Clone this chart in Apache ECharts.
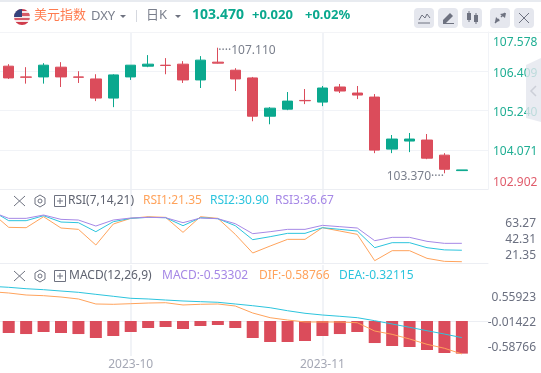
<!DOCTYPE html>
<html>
<head>
<meta charset="utf-8">
<style>
  html, body { margin: 0; padding: 0; background: #fff; }
  #chart { width: 541px; height: 373px; }
</style>
<script src="https://cdn.jsdelivr.net/npm/echarts@6/dist/echarts.min.js"></script>
</head>
<body>
<div id="chart"></div>
<script>
// index 0 is the session just off the left edge, only the indicator lines reach into view from it
const xLabels = ['', '', '', '', '', '', '', '', '2023-10', '', '', '', '', '', '', '', '', '', '', '2023-11', '', '', '', '', '', '', '', '', ''];

// open, close, low, high
const candles = [
  ['-', '-', '-', '-'],
  [106.56, 106.21, 106.18, 106.62],
  [106.24, 106.23, 106.04, 106.53],
  [106.24, 106.59, 106.04, 106.65],
  [106.53, 106.24, 105.94, 106.68],
  [106.24, 106.23, 106.06, 106.41],
  [106.18, 105.61, 105.52, 106.32],
  [105.61, 106.30, 105.34, 106.32],
  [106.24, 106.59, 106.15, 106.59],
  [106.56, 106.62, 106.53, 106.89],
  [106.59, 106.58, 106.32, 106.80],
  [106.62, 106.15, 106.06, 106.71],
  [106.15, 106.74, 105.91, 106.86],
  [106.68, 106.65, 106.64, 107.11],
  [106.44, 106.18, 105.82, 106.50],
  [106.21, 105.07, 104.92, 106.24],
  [105.07, 105.31, 104.83, 105.34],
  [105.28, 105.52, 105.25, 105.79],
  [105.54, 105.53, 105.43, 105.88],
  [105.49, 105.91, 105.37, 105.97],
  [105.94, 105.82, 105.76, 106.03],
  [105.76, 105.70, 105.58, 105.97],
  [105.64, 104.06, 103.97, 105.73],
  [104.09, 104.39, 103.97, 104.51],
  [104.33, 104.39, 104.00, 104.57],
  [104.36, 103.82, 103.79, 104.54],
  [103.91, 103.49, 103.37, 103.97],
  [103.45, 103.47, 103.45, 103.47],
  ['-', '-', '-', '-']
];

const rsi1 = [62.47, 49.97, 49.69, 58.86, 49.42, 48.31, 35.25, 52.75, 57.47, 58.86, 58.30, 45.81, 58.86, 57.47, 44.14, 28.59, 34.42, 39.97, 39.97, 49.69, 46.92, 44.14, 22.20, 30.53, 30.53, 24.15, 21.65, 21.35];
const rsi2 = [64.13, 55.53, 55.53, 59.69, 54.42, 53.86, 46.36, 54.69, 57.47, 58.30, 58.03, 51.36, 58.03, 57.19, 51.36, 39.70, 42.20, 44.97, 44.97, 49.69, 48.31, 46.92, 33.03, 37.20, 37.20, 33.03, 31.20, 30.90];
const rsi3 = [63.02, 57.47, 57.47, 60.25, 56.64, 56.08, 51.08, 56.08, 57.75, 58.30, 58.03, 53.86, 57.75, 57.19, 53.03, 44.70, 46.36, 48.31, 48.31, 51.64, 50.53, 49.42, 38.86, 41.64, 41.64, 38.31, 36.64, 36.67];

const macdBars = ['-', -0.196, -0.213, -0.180, -0.196, -0.213, -0.278, -0.245, -0.180, -0.114, -0.098, -0.131, -0.082, -0.065, -0.114, -0.278, -0.343, -0.343, -0.327, -0.245, -0.213, -0.180, -0.360, -0.409, -0.425, -0.474, -0.523, -0.533];
const dif = [0.430, 0.409, 0.376, 0.365, 0.343, 0.311, 0.229, 0.224, 0.234, 0.245, 0.250, 0.213, 0.224, 0.229, 0.196, 0.082, 0.005, -0.033, -0.065, -0.065, -0.065, -0.077, -0.213, -0.267, -0.343, -0.430, -0.495, -0.58766];
const dea = [0.518, 0.502, 0.479, 0.463, 0.441, 0.420, 0.387, 0.355, 0.322, 0.311, 0.294, 0.278, 0.267, 0.257, 0.229, 0.201, 0.168, 0.119, 0.077, 0.049, 0.028, 0.005, -0.044, -0.098, -0.152, -0.208, -0.262, -0.32115];

const priceTicks = [102.902, 104.071, 105.240, 106.409, 107.578];
const priceEndTicks = [102.902, 107.578];
const priceMidTicks = [104.071, 105.240, 106.409];
const rsiTicks = [21.35, 42.31, 63.27];
const macdTicks = [-0.58766, -0.01422, 0.55923];

const UP = '#0aa88e';
const DOWN = '#db4c5b';
const GRID = '#f1f3f7';
const FONT = '"Noto Sans", "Noto Sans CJK SC", sans-serif';
const monthLines = [8, 19];

const myChart = echarts.init(document.getElementById('chart'));

const monthMarks = {
  silent: true,
  symbol: 'none',
  animation: false,
  z: 0,
  label: { show: false },
  lineStyle: { color: GRID, width: 2, type: 'solid' },
  data: monthLines.map(i => ({ xAxis: i }))
};

const xAxisBase = {
  type: 'category',
  data: xLabels,
  min: 1,
  max: 28,
  axisLine: { lineStyle: { color: '#eceef3' } },
  axisTick: { show: false },
  axisLabel: { show: false },
  splitLine: { show: false }
};

function labelAxis(gridIndex, ticks, min, max, digits) {
  return {
    type: 'value',
    gridIndex,
    position: 'right',
    min,
    max,
    axisLine: { show: false },
    axisTick: { show: false, customValues: ticks },
    splitLine: { show: false },
    axisLabel: {
      customValues: ticks,
      inside: false,
      margin: 48,
      align: 'right',
      padding: [2, 0, 0, 0],
      color: '#6b7080',
      fontFamily: FONT,
      fontSize: 12,
      formatter: v => v.toFixed(digits)
    }
  };
}

function hiddenAxis(gridIndex, min, max) {
  return {
    type: 'value', gridIndex, position: 'right', min, max,
    axisLine: { show: false }, axisTick: { show: false },
    axisLabel: { show: false }, splitLine: { show: false }
  };
}

function lineSeries(name, data, color, xAxisIndex, yAxisIndex) {
  return {
    name, type: 'line', data, xAxisIndex, yAxisIndex,
    showSymbol: false, symbol: 'none', silent: true,
    lineStyle: { color, width: 1 }
  };
}

function text(x, y, str, color, size, weight) {
  return {
    type: 'text', x, y, z: 10,
    style: {
      text: str, fill: color, fontSize: size || 12, fontWeight: weight || 'normal',
      fontFamily: FONT, textVerticalAlign: 'middle'
    }
  };
}

function iconLine(points, color, width) {
  return {
    type: 'polyline', z: 11,
    shape: { points },
    style: { fill: 'none', stroke: color || '#6e7280', lineWidth: width || 1 }
  };
}

function button(x) {
  return { type: 'rect', z: 10, shape: { x, y: 8, width: 20, height: 20, r: 4 }, style: { fill: '#e5e7ee' } };
}

// close, settings and expand icons on an indicator row
function rowIcons(y) {
  return [
    iconLine([[14, y - 5], [25, y + 5]], '#6e7280'),
    iconLine([[25, y - 5], [14, y + 5]], '#6e7280'),
    { type: 'polygon', z: 11, shape: { points: [[40, y - 6], [45, y - 3], [45, y + 3], [40, y + 6], [35, y + 3], [35, y - 3]] }, style: { fill: 'none', stroke: '#6e7280', lineWidth: 1 } },
    { type: 'circle', z: 11, shape: { cx: 40, cy: y, r: 2 }, style: { fill: 'none', stroke: '#6e7280', lineWidth: 1 } },
    { type: 'rect', z: 11, shape: { x: 54.5, y: y - 5.5, width: 11, height: 11 }, style: { fill: 'none', stroke: '#6e7280', lineWidth: 1 } },
    iconLine([[57, y], [63, y]], '#6e7280'),
    iconLine([[60, y - 3], [60, y + 3]], '#6e7280')
  ];
}

const graphics = [
  { type: 'rect', z: 1, shape: { x: 0, y: 0, width: 541, height: 2 }, style: { fill: '#e8ebf0' } },
  { type: 'rect', z: 1, shape: { x: 0, y: 32, width: 541, height: 1 }, style: { fill: '#f3f4f7' } },

  // flag
  {
    type: 'circle', z: 10, shape: { cx: 22, cy: 17, r: 8 },
    style: {
      fill: new echarts.graphic.LinearGradient(0, 0, 0, 1, [
        { offset: 0, color: '#cf3a4a' }, { offset: 0.14, color: '#cf3a4a' },
        { offset: 0.14, color: '#f6e6e8' }, { offset: 0.28, color: '#f6e6e8' },
        { offset: 0.28, color: '#d65a68' }, { offset: 0.42, color: '#d65a68' },
        { offset: 0.42, color: '#f6e6e8' }, { offset: 0.56, color: '#f6e6e8' },
        { offset: 0.56, color: '#d65a68' }, { offset: 0.7, color: '#d65a68' },
        { offset: 0.7, color: '#f6e6e8' }, { offset: 0.84, color: '#f6e6e8' },
        { offset: 0.84, color: '#cf3a4a' }, { offset: 1, color: '#cf3a4a' }
      ])
    }
  },
  { type: 'sector', z: 11, shape: { cx: 22, cy: 17, r: 8, startAngle: Math.PI, endAngle: Math.PI * 1.5 }, style: { fill: '#34437d' } },

  text(34, 15, '美元指数', '#ff7b4f', 13),
  text(91, 16, 'DXY', '#7a7f8c', 13),
  { type: 'polygon', z: 10, shape: { points: [[120, 15], [126, 15], [123, 18]] }, style: { fill: '#6e7280' } },
  { type: 'rect', z: 10, shape: { x: 136, y: 10, width: 1, height: 12 }, style: { fill: '#d5d8df' } },
  text(146, 15, '日K', '#7a7f8c', 13),
  { type: 'polygon', z: 10, shape: { points: [[175, 15], [181, 15], [178, 18]] }, style: { fill: '#6e7280' } },
  text(192, 15, '103.470', UP, 14, 'bold'),
  text(252, 15, '+0.020', UP, 13, 'bold'),
  text(305, 15, '+0.02%', UP, 13, 'bold'),

  button(414), button(438), button(462), button(490), button(514),
  iconLine([[419, 20], [422, 15], [425, 18], [427, 14], [430, 18]], '#6e7280'),
  iconLine([[418, 23], [430, 23]], '#6e7280'),
  { type: 'polygon', z: 11, shape: { points: [[443, 20], [450, 13], [453, 16], [446, 23], [443, 23]] }, style: { fill: '#6e7280' } },
  { type: 'rect', z: 11, shape: { x: 443, y: 23, width: 11, height: 1 }, style: { fill: '#6e7280' } },
  { type: 'rect', z: 11, shape: { x: 467, y: 13, width: 4, height: 7 }, style: { fill: '#6e7280' } },
  { type: 'rect', z: 11, shape: { x: 474, y: 15, width: 4, height: 7 }, style: { fill: '#6e7280' } },
  iconLine([[469, 11], [469, 22]], '#6e7280'),
  iconLine([[476, 13], [476, 24]], '#6e7280'),
  iconLine([[495, 23], [499, 19]], '#6e7280', 1.5),
  iconLine([[505, 13], [501, 17]], '#6e7280', 1.5),
  { type: 'polygon', z: 11, shape: { points: [[496, 17], [500, 21], [495, 22]] }, style: { fill: '#6e7280' } },
  { type: 'polygon', z: 11, shape: { points: [[500, 14], [505, 18], [506, 13]] }, style: { fill: '#6e7280' } },
  iconLine([[519, 13], [529, 23]], '#6e7280'),
  iconLine([[529, 13], [519, 23]], '#6e7280'),

  // collapse tab on the right edge
  { type: 'polygon', z: 20, shape: { points: [[526, 65], [541, 58], [541, 122], [526, 118]] }, style: { fill: 'rgba(228,230,238,0.8)' } },
  iconLine([[536, 86], [531, 91], [536, 96]], '#6e7280', 1.5),

  ...rowIcons(201),
  text(68, 201, 'RSI(7,14,21)', '#5f6370'),
  text(143, 201, 'RSI1:21.35', '#ffa35c'),
  text(210, 201, 'RSI2:30.90', '#2cc4dd'),
  text(275, 201, 'RSI3:36.67', '#a688e6'),

  ...rowIcons(276),
  text(69, 276, 'MACD(12,26,9)', '#5f6370'),
  text(162, 276, 'MACD:-0.53302', '#a688e6'),
  text(259, 276, 'DIF:-0.58766', '#ffa35c'),
  text(339, 276, 'DEA:-0.32115', '#2cc4dd')
];

const option = {
  animation: false,
  backgroundColor: '#fff',
  grid: [
    { left: 0, right: 53, top: 32, height: 157 },
    { left: 0, right: 53, top: 190, height: 73 },
    { left: 0, right: 53, top: 265, height: 91 }
  ],
  xAxis: [
    { ...xAxisBase, gridIndex: 0 },
    { ...xAxisBase, gridIndex: 1 },
    {
      ...xAxisBase,
      gridIndex: 2,
      axisLabel: { show: true, interval: 0, color: '#a5a8b5', fontFamily: FONT, fontSize: 12, margin: 3 }
    }
  ],
  yAxis: [
    {
      type: 'value',
      gridIndex: 0,
      position: 'right',
      min: 102.902,
      max: 107.578,
      axisLine: { show: true, lineStyle: { color: '#f1f3f7' } },
      axisTick: { show: false, customValues: priceTicks },
      splitLine: { show: true, lineStyle: { color: GRID } },
      axisLabel: {
        customValues: priceEndTicks,
        margin: 5,
        padding: [5, 0, 0, 0],
        fontFamily: FONT,
        fontSize: 12,
        verticalAlignMaxLabel: 'top',
        verticalAlignMinLabel: 'bottom',
        color: v => (v < 103 ? '#e05c6b' : '#1fae93'),
        formatter: v => v.toFixed(3)
      }
    },
    hiddenAxis(1, 20.27, 81.1),
    labelAxis(1, rsiTicks, 12.4, 105.5, 2),
    hiddenAxis(2, -0.572, 0.9156),
    hiddenAxis(2, -0.6213, 0.8666),
    labelAxis(2, macdTicks, -0.784, 1.32, 5),
    // the middle price labels sit about 2px under their grid lines
    {
      type: 'value',
      gridIndex: 0,
      position: 'right',
      min: 102.962,
      max: 107.638,
      axisLine: { show: false },
      axisTick: { show: false, customValues: priceMidTicks },
      splitLine: { show: false },
      axisLabel: {
        customValues: priceMidTicks,
        margin: 5,
        color: '#1fae93',
        fontFamily: FONT,
        fontSize: 12,
        formatter: v => v.toFixed(3)
      }
    }
  ],
  series: [
    {
      name: 'DXY',
      type: 'candlestick',
      data: candles,
      xAxisIndex: 0,
      yAxisIndex: 0,
      barWidth: 11,
      silent: true,
      itemStyle: { color: UP, color0: DOWN, borderColor: UP, borderColor0: DOWN, borderWidth: 1 },
      markLine: monthMarks,
      markPoint: {
        silent: true,
        animation: false,
        symbol: 'circle',
        symbolSize: 1,
        itemStyle: { color: 'transparent' },
        data: [
          {
            coord: [13, 107.11],
            label: { show: true, position: 'right', offset: [0, 3], distance: 0, formatter: '····107.110', color: '#7a7f8c', fontFamily: FONT, fontSize: 12 }
          },
          {
            coord: [26, 103.37],
            label: { show: true, position: 'left', offset: [0, 3], distance: 0, formatter: '103.370····', color: '#7a7f8c', fontFamily: FONT, fontSize: 12 }
          }
        ]
      }
    },
    { ...lineSeries('RSI1', rsi1, '#ffa35c', 1, 1), markLine: monthMarks },
    lineSeries('RSI2', rsi2, '#2cc4dd', 1, 1),
    lineSeries('RSI3', rsi3, '#a688e6', 1, 1),
    {
      name: 'MACD',
      type: 'bar',
      data: macdBars,
      xAxisIndex: 2,
      yAxisIndex: 3,
      barWidth: 12,
      silent: true,
      itemStyle: { color: DOWN },
      markLine: monthMarks
    },
    lineSeries('DIF', dif, '#ffa35c', 2, 4),
    lineSeries('DEA', dea, '#2cc4dd', 2, 4)
  ],
  graphic: { elements: graphics }
};

myChart.setOption(option);
</script>
</body>
</html>
